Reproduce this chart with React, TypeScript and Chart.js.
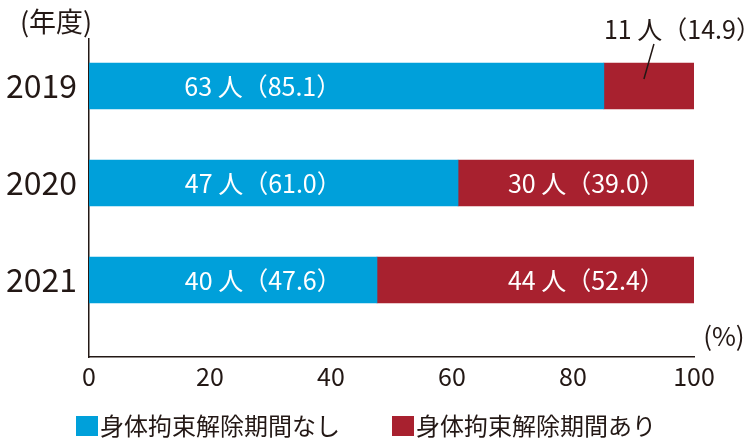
import React, { useEffect, useRef } from "react";
import { Chart, registerables } from "chart.js";

Chart.register(...registerables);

const years = ["2019", "2020", "2021"];
const seriesNames = ["身体拘束解除期間なし", "身体拘束解除期間あり"];
const naiCounts = [63, 47, 40];
const naiPct = [85.1, 61.0, 47.6];
const ariCounts = [11, 30, 44];
const ariPct = [14.9, 39.0, 52.4];
const xTicks = [0, 20, 40, 60, 80, 100];

const BLUE = "#00a0da";
const RED = "#a8212f";
const INK = "#231815";
const FONT = "'Noto Sans CJK JP', 'Noto Sans', sans-serif";

// x-scale value where each series' labels are centred
const labelAt = [27.4, 80.8];

function drawInkCentered(ctx: any, text: string, cx: number, y: number) {
  const m = ctx.measureText(text);
  const x = cx - (m.actualBoundingBoxRight - m.actualBoundingBoxLeft) / 2;
  ctx.fillText(text, x, y);
}

const labelPlugin = {
  id: "labels",
  afterDatasetsDraw(chart: any) {
    const ctx = chart.ctx;
    const xs = chart.scales.x;
    const counts = [naiCounts, ariCounts];
    const pcts = [naiPct, ariPct];
    ctx.save();
    ctx.font = `25px ${FONT}`;
    ctx.textBaseline = "middle";
    ctx.textAlign = "left";
    chart.data.datasets.forEach((ds: any, i: number) => {
      const meta = chart.getDatasetMeta(i);
      meta.data.forEach((bar: any, j: number) => {
        const text = `${counts[i][j]} 人（${pcts[i][j].toFixed(1)}）`;
        if (pcts[i][j] < 20) {
          const cx = (bar.x + bar.base) / 2;
          ctx.fillStyle = INK;
          drawInkCentered(ctx, text, cx + 26, bar.y - 56);
          ctx.strokeStyle = INK;
          ctx.lineWidth = 1.5;
          ctx.beginPath();
          ctx.moveTo(cx - 5, bar.y - 7);
          ctx.lineTo(cx + 5, bar.y - 42);
          ctx.stroke();
        } else {
          ctx.fillStyle = "#ffffff";
          drawInkCentered(ctx, text, xs.getPixelForValue(labelAt[i]), bar.y + 1);
        }
      });
    });
    ctx.restore();
  },
};

const extrasPlugin = {
  id: "extras",
  afterDraw(chart: any) {
    const ctx = chart.ctx;
    const area = chart.chartArea;
    ctx.save();
    ctx.fillStyle = INK;
    ctx.textBaseline = "middle";
    ctx.textAlign = "left";
    ctx.font = `27px ${FONT}`;
    drawInkCentered(ctx, "(年度)", 56, 22);
    ctx.font = `26px ${FONT}`;
    drawInkCentered(ctx, "(%)", area.right + 30, area.bottom - 21);

    // legend
    ctx.font = `24px ${FONT}`;
    let x = 76;
    const cy = 426;
    chart.data.datasets.forEach((ds: any) => {
      ctx.fillStyle = ds.backgroundColor;
      ctx.fillRect(x, cy - 10, 22, 20);
      ctx.fillStyle = INK;
      ctx.fillText(ds.label, x + 24, cy);
      x += 24 + ctx.measureText(ds.label).width + 52;
    });
    ctx.restore();
  },
};

export default function App() {
  const ref = useRef<HTMLCanvasElement | null>(null);
  useEffect(() => {
    document.body.style.margin = "0";
    if (!ref.current) return;
    const chart = new Chart(ref.current, {
      type: "bar",
      data: {
        datasets: [
          {
            label: seriesNames[0],
            data: naiPct.map((v, i) => ({ x: v, y: i })) as any,
            backgroundColor: BLUE,
            barThickness: 46,
          },
          {
            label: seriesNames[1],
            data: ariPct.map((v, i) => ({ x: v, y: i })) as any,
            backgroundColor: RED,
            barThickness: 46,
          },
        ],
      },
      options: {
        indexAxis: "y",
        responsive: false,
        animation: false,
        devicePixelRatio: 1,
        layout: { padding: { top: 39, right: 56, left: 0, bottom: 0 } },
        plugins: { legend: { display: false }, tooltip: { enabled: false } },
        scales: {
          x: {
            type: "linear",
            stacked: true,
            min: 0,
            max: 100,
            grid: { display: false, drawTicks: false },
            border: { display: true, color: INK, width: 1.5 },
            afterBuildTicks: (s: any) => {
              s.ticks = xTicks.map((v) => ({ value: v }));
            },
            afterFit: (s: any) => {
              s.height = 84;
            },
            ticks: {
              color: INK,
              font: { size: 25, family: FONT },
              padding: 4,
              maxRotation: 0,
            },
          },
          y: {
            type: "linear",
            stacked: true,
            reverse: true,
            offset: false,
            bounds: "data",
            min: -0.4845,
            max: 2.794,
            grid: { display: false, drawTicks: false, offset: false },
            border: { display: true, color: INK, width: 1.5 },
            afterBuildTicks: (s: any) => {
              s.ticks = years.map((_, i) => ({ value: i }));
            },
            afterFit: (s: any) => {
              s.width = 89;
            },
            ticks: {
              color: INK,
              font: { size: 32, family: FONT },
              padding: 12,
              callback: (v: any) => years[Math.round(Number(v))],
            },
          },
        },
      },
      plugins: [labelPlugin, extrasPlugin],
    });
    return () => chart.destroy();
  }, []);
  return (
    <div style={{ width: 750, height: 441 }}>
      <canvas ref={ref} width={750} height={441} />
    </div>
  );
}
